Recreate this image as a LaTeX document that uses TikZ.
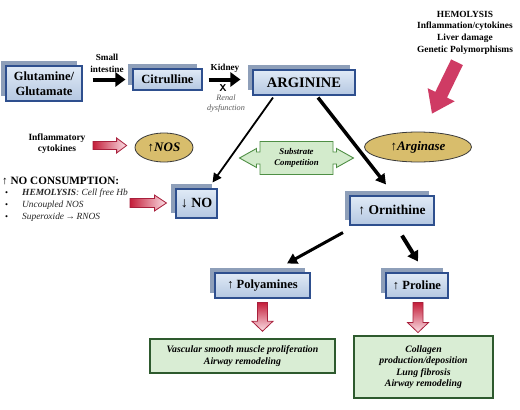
\documentclass[tikz,border=0pt]{standalone}
\usepackage{fontspec}
\setmainfont{Liberation Serif}
\usetikzlibrary{arrows.meta,calc,shapes.geometric}
\definecolor{boxedge}{HTML}{2E4F8E}
\definecolor{boxtop}{HTML}{E0EAF6}
\definecolor{boxbot}{HTML}{B4C7E1}
\definecolor{shadowc}{HTML}{8E9FB9}
\definecolor{ellfill}{HTML}{D8BD6C}
\definecolor{elledge}{HTML}{3A3A3A}
\definecolor{grfill}{HTML}{D9EDD4}
\definecolor{gredge}{HTML}{2E5A2E}
\definecolor{subfill}{HTML}{D3EBCC}
\definecolor{subedge}{HTML}{4F8F45}
\definecolor{bigred}{HTML}{CF3B64}
\definecolor{redA}{HTML}{C41E3A}
\definecolor{redB}{HTML}{FBE0E6}
\definecolor{redE}{HTML}{A8203C}
\newcommand\bbox[6]{%
  \fill[shadowc] ($(#2)+({-#3/2-5},{-#4/2-5})$) rectangle ($(#2)+({#3/2-5},{#4/2-5})$);
  \node[bluebox, minimum width=#3pt, minimum height=#4pt, font=#6] (#1) at (#2) {#5};
}
% block arrow: #1 start, #2 end, #3 shaft half, #4 head half, #5 head length, #6 style
\newcommand\blockarr[6]{%
  \coordinate (ahh) at ($(#2)!#5!(#1)$);
  \path[#6] ($(#1)!#3!90:(#2)$) -- ($(ahh)!#3!-90:(#1)$) -- ($(ahh)!#4!-90:(#1)$) -- (#2)
    -- ($(ahh)!#4!90:(#1)$) -- ($(ahh)!#3!90:(#1)$) -- ($(#1)!#3!-90:(#2)$) -- cycle;
}
\newcommand\fs[2]{\fontsize{#1}{#2}\selectfont}
\begin{document}
\begin{tikzpicture}[x=1pt,y=-1pt,
  bluebox/.style={draw=boxedge, line width=1.1pt, top color=boxtop, bottom color=boxbot, inner sep=0pt, align=center},
  lbl/.style={align=center, inner sep=0pt},
  ell/.style={ellipse, draw=elledge, line width=0.8pt, fill=ellfill, inner sep=0pt},
  greenbox/.style={draw=gredge, line width=1.5pt, fill=grfill, align=center, inner sep=0pt},
  blk/.style={draw=black},
  hollowh/.style={draw=redE, line width=0.8pt, left color=redA, right color=redB},
  hollowv/.style={draw=redE, line width=0.8pt, top color=redA, bottom color=redB},
  bigarr/.style={fill=bigred}
]
\useasboundingbox (0,0) rectangle (520,410);
\fill[white] (0,0) rectangle (520,410);

% blue boxes
\bbox{glu}{44,83.5}{76}{35}{Glutamine/\\Glutamate}{\fs{12.5}{15}\bfseries}
\bbox{cit}{167.5,79.5}{69}{21}{Citrulline}{\fs{12.5}{15}\bfseries}
\bbox{arg}{304,82.5}{102}{25}{ARGININE}{\fs{14.5}{17}\bfseries}
\bbox{no}{196.5,203.5}{41}{29}{↓ NO}{\fs{14}{16}\bfseries}
\bbox{orn}{392,210.5}{84}{29}{↑ Ornithine}{\fs{13.5}{16}\bfseries}
\bbox{poly}{262.5,285.5}{95}{25}{↑ Polyamines}{\fs{12.5}{15}\bfseries}
\bbox{pro}{417,285.5}{62}{25}{↑ Proline}{\fs{12.5}{15}\bfseries}

% labels
\node[lbl, font=\fs{9.2}{12}\bfseries] (si) at (107,63) {Small\\intestine};
\node[lbl, font=\fs{9.2}{12}\bfseries] (kid) at (225,68) {Kidney};
\node[lbl, font=\fs{10}{12}\bfseries\sffamily] (xx) at (223,88) {X};
\node[lbl, font=\fs{8.2}{10.5}\itshape, text=black!65] (ren) at (226,103.5) {Renal\\dysfunction};
\node[lbl, font=\fs{9.4}{11.6}\bfseries] (hem) at (465,32.5) {HEMOLYSIS\\Inflammation/cytokines\\Liver damage\\Genetic Polymorphisms};
\node[lbl, font=\fs{9.5}{11.5}\bfseries] (infl) at (57,143.5) {Inflammatory\\cytokines};

% ellipses
\node[ell, minimum width=58pt, minimum height=29pt, font=\fs{13}{15}\bfseries\itshape] (nos) at (164,147.5) {↑NOS};
\node[ell, minimum width=107pt, minimum height=30pt, font=\fs{13}{15}\bfseries\itshape] (argase) at (418,147) {↑Arginase};

% substrate competition callout
\node[lbl, minimum width=73pt, minimum height=33pt, font=\fs{8.8}{10.5}\bfseries\itshape] (sub) at (296.5,158) {Substrate\\Competition};
\draw[draw=subedge, line width=0.9pt, fill=subfill]
  ($(sub.center)+(-36.5,-16.5)$) -- ++(73,0) -- ++(0,10.5) -- ++(3.5,0) -- ++(0,-3.5) -- ++(17,9.5) -- ++(-17,9.5) -- ++(0,-3.5) -- ++(-3.5,0) -- ++(0,10.5)
  -- ++(-73,0) -- ++(0,-10.5) -- ++(-3.5,0) -- ++(0,3.5) -- ++(-17,-9.5) -- ++(17,-9.5) -- ++(0,3.5) -- ++(3.5,0) -- cycle;
\node[lbl, font=\fs{8.8}{10.5}\bfseries\itshape] at (sub.center) {Substrate\\Competition};

% NO consumption text
\node[anchor=west, inner sep=0pt, font=\fs{11.2}{12}\bfseries] (nocons) at (2,181) {↑ NO CONSUMPTION:};
\node[anchor=west, inner sep=0pt, font=\fs{8.5}{10}] (b1) at (5,193.5) {•};
\node[anchor=west, inner sep=0pt, font=\fs{8.5}{10}] (b2) at (5,205.5) {•};
\node[anchor=west, inner sep=0pt, font=\fs{8.5}{10}] (b3) at (5,217.5) {•};
\node[anchor=west, inner sep=0pt, font=\fs{9.4}{10}\itshape, text=black!85] (t1) at (22,193.5) {\textbf{HEMOLYSIS}: Cell free Hb};
\node[anchor=west, inner sep=0pt, font=\fs{9.4}{10}\itshape, text=black!85] (t2) at (22,205.5) {Uncoupled NOS};
\node[anchor=west, inner sep=0pt, font=\fs{9.4}{10}\itshape, text=black!85] (t3) at (22,217.5) {Superoxide\,→\,RNOS};

% green boxes
\node[greenbox, minimum width=185pt, minimum height=34pt, font=\fs{9.8}{12.5}\bfseries\itshape] (g1) at (242.5,356) {Vascular smooth muscle proliferation\\Airway remodeling};
\node[greenbox, minimum width=139pt, minimum height=62pt, font=\fs{9.8}{11.4}\bfseries\itshape] (g2) at (423.5,367) {Collagen\\production/deposition\\Lung fibrosis\\Airway remodeling};

% black arrows
\draw[blk, line width=4pt, -{Triangle[length=10pt,width=14pt]}] ($(glu.east |- cit.west)+(10,0)$) -- ($(cit.west)+(-7,0)$);
\draw[blk, line width=4pt, -{Triangle[length=10pt,width=14pt]}] ($(cit.east)+(6,0)$) -- ($(arg.west |- cit.east)+(-12,0)$);
\draw[blk, line width=1.8pt, -{Triangle[length=9pt,width=9pt]}] ($(arg.south)+(-31,2)$) -- ($(no.north east)+(-5,-6)$);
\draw[blk, line width=3.5pt, -{Triangle[length=10pt,width=11pt]}] ($(arg.south)+(14,2)$) -- ($(orn.north)+(-6,-11)$);
\draw[blk, line width=3pt, -{Triangle[length=10pt,width=11pt]}] ($(orn.south)+(-49,7)$) -- ($(poly.north)+(24.5,-9)$);
\draw[blk, line width=4pt, -{Triangle[length=10pt,width=12pt]}] ($(orn.south)+(10,10)$) -- ($(pro.north)+(1,-11)$);

% big red arrow
\coordinate (hs) at ($(hem.south)+(-8,8)$);
\coordinate (he) at ($(argase.north)+(14,-18)$);
\blockarr{hs}{he}{6.5pt}{15pt}{21pt}{bigarr}

% hollow red arrows
\coordinate (ia) at (93,145.5);
\coordinate (ib) at ($(nos.west)+(-8,-2)$);
\blockarr{ia}{ib}{4pt}{7.5pt}{10pt}{hollowh}
\coordinate (na) at (130,203);
\coordinate (nb) at ($(no.west)+(-9,-0.5)$);
\blockarr{na}{nb}{4.5pt}{8pt}{12pt}{hollowh}
\coordinate (pa) at ($(poly.south)+(0,4)$);
\coordinate (pb) at ($(g1.north)+(20,-7)$);
\blockarr{pa}{pb}{5pt}{10.5pt}{10pt}{hollowv}
\coordinate (qa) at ($(pro.south)+(1,4)$);
\coordinate (qb) at ($(pro.south)+(1,34)$);
\blockarr{qa}{qb}{5pt}{10.5pt}{10pt}{hollowv}
\end{tikzpicture}
\end{document}
